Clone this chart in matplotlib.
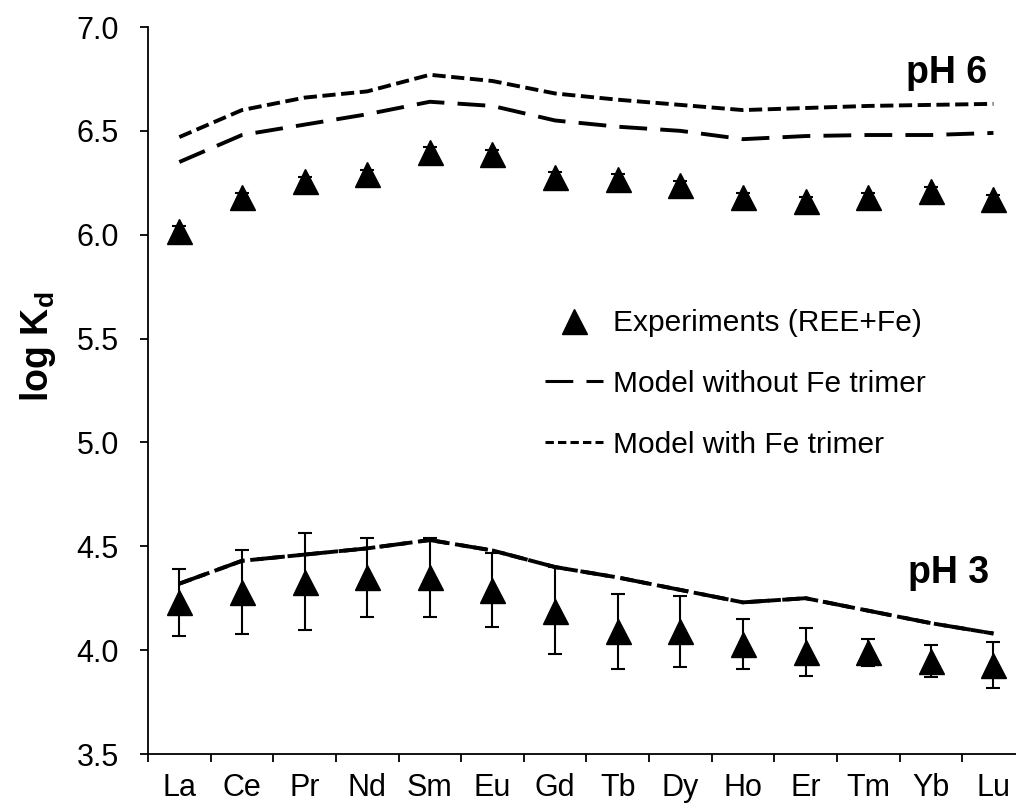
import matplotlib
matplotlib.use("Agg")
import matplotlib.pyplot as plt
from matplotlib.lines import Line2D

plt.rcParams['font.family'] = ['Liberation Sans', 'DejaVu Sans']
plt.rcParams['lines.scale_dashes'] = False

elements = ['La', 'Ce', 'Pr', 'Nd', 'Sm', 'Eu', 'Gd', 'Tb', 'Dy', 'Ho', 'Er', 'Tm', 'Yb', 'Lu']

exp_ph6 = [6.02, 6.18, 6.26, 6.29, 6.40, 6.39, 6.28, 6.27, 6.24, 6.18, 6.16, 6.18, 6.21, 6.17]
err_ph6 = [0.02, 0.02, 0.02, 0.02, 0.02, 0.02, 0.02, 0.02, 0.02, 0.02, 0.02, 0.02, 0.02, 0.02]
model_no_trimer_ph6 = [6.35, 6.48, 6.53, 6.58, 6.64, 6.62, 6.55, 6.52, 6.50, 6.46, 6.475, 6.48, 6.48, 6.49]
model_trimer_ph6 = [6.47, 6.60, 6.66, 6.69, 6.77, 6.74, 6.68, 6.65, 6.625, 6.60, 6.61, 6.62, 6.625, 6.63]

exp_ph3 = [4.23, 4.28, 4.33, 4.35, 4.35, 4.29, 4.19, 4.09, 4.09, 4.03, 3.99, 3.99, 3.95, 3.93]
err_ph3 = [0.16, 0.20, 0.235, 0.19, 0.19, 0.18, 0.21, 0.18, 0.17, 0.12, 0.115, 0.065, 0.077, 0.11]
model_no_trimer_ph3 = [4.32, 4.43, 4.46, 4.49, 4.53, 4.48, 4.40, 4.35, 4.29, 4.23, 4.25, 4.19, 4.13, 4.08]
model_trimer_ph3 = [4.32, 4.43, 4.46, 4.49, 4.53, 4.48, 4.40, 4.35, 4.29, 4.23, 4.25, 4.19, 4.13, 4.08]

yticks = [3.5, 4.0, 4.5, 5.0, 5.5, 6.0, 6.5, 7.0]

W, H = 1016, 811
fig = plt.figure(figsize=(W / 100, H / 100), dpi=100)
left_px, right_px, top_px, bot_px = 148, 1024.75, 27, 754
ax = fig.add_axes([left_px / W, 1 - bot_px / H, (right_px - left_px) / W, (bot_px - top_px) / H])

x = list(range(len(elements)))
long_dash = (20, 9.5)
short_dash = (9.5, 4)
lw = 2.8

ax.plot(x, model_no_trimer_ph6, color='black', lw=lw, dashes=long_dash, zorder=2)
ax.plot(x, model_trimer_ph6, color='black', lw=lw, dashes=short_dash, zorder=2)
ax.plot(x, model_no_trimer_ph3, color='black', lw=lw, dashes=long_dash, zorder=2)
ax.plot(x, model_trimer_ph3, color='black', lw=lw, dashes=short_dash, zorder=2)

ax.errorbar(x, exp_ph6, yerr=err_ph6, fmt='none', ecolor='black', elinewidth=1.5, capsize=4.7, capthick=1.5, zorder=3)
ax.errorbar(x, exp_ph3, yerr=err_ph3, fmt='none', ecolor='black', elinewidth=1.5, capsize=4.7, capthick=1.5, zorder=3)
ax.plot(x, exp_ph6, linestyle='none', marker='^', ms=18, color='black', zorder=4)
ax.plot(x, exp_ph3, linestyle='none', marker='^', ms=18, color='black', zorder=4)

ax.set_xlim(-0.5, 13.5)
ax.set_ylim(3.5, 7.0)
ax.set_yticks(yticks)
ax.set_yticklabels([f'{v:.1f}' for v in yticks])
ax.set_xticks([i + 0.5 for i in range(-1, 14)])
ax.set_xticklabels([])
ax.set_xticks(x, minor=True)
ax.set_xticklabels(elements, minor=True)
ax.tick_params(axis='x', which='minor', length=0, labelsize=22, pad=14)
ax.tick_params(axis='x', which='major', direction='out', length=6, width=1.3)
ax.tick_params(axis='y', direction='out', length=6, width=1.3, labelsize=22, pad=15)

for s in ['top', 'right']:
    ax.spines[s].set_visible(False)
for s in ['left', 'bottom']:
    ax.spines[s].set_linewidth(1.3)

fig.text(38 / W, 1 - 347 / H, r'log K$_\mathregular{d}$', rotation=90, ha='center', va='center',
         fontsize=27, fontweight='bold')
ax.text(12.9, 6.78, 'pH 6', ha='right', va='center', fontsize=27, fontweight='bold')
ax.text(12.93, 4.37, 'pH 3', ha='right', va='center', fontsize=27, fontweight='bold')

handles = [Line2D([], [], linestyle='none', marker='^', ms=18, color='black'),
           Line2D([], [], color='black', lw=2.2, dashes=long_dash),
           Line2D([], [], color='black', lw=2.2, dashes=(6, 3))]
labels = ['Experiments (REE+Fe)', 'Model without Fe trimer', 'Model with Fe trimer']
fig.legend(handles, labels, loc='upper left', bbox_to_anchor=(545 / W, 1 - 309 / H),
           frameon=False, fontsize=21.5, handlelength=1.95, handletextpad=0.33,
           labelspacing=1.1, borderpad=0, borderaxespad=0)

fig.savefig('out.png', dpi=100)
